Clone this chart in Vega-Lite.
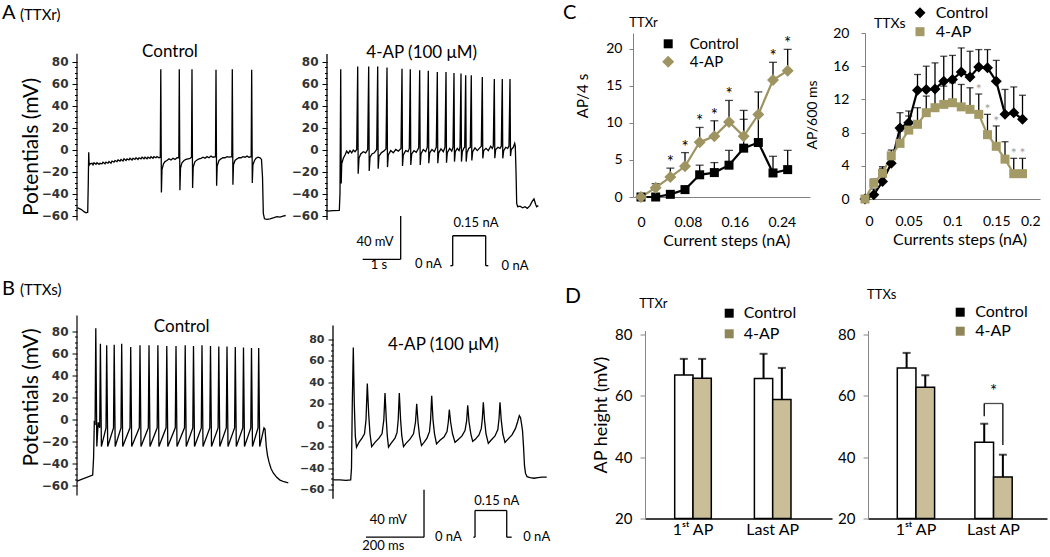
{
"$schema":"https://vega.github.io/schema/vega-lite/v6.json",
"autosize":{"type":"none"},
"padding":{"left":77,"top":33,"right":973,"bottom":524},
"background":"white",
"config":{"view":{"stroke":null},"font":"Lato","axis":{"grid":false,"labelFont":"Lato","titleFont":"Lato"},"text":{"font":"Lato","color":"black"},"legend":{"labelFont":"Lato","labelColor":"black"}},
"spacing":5.5,
"resolve":{"scale":{"x":"independent","y":"independent","color":"independent","shape":"independent","size":"independent","fill":"independent","xOffset":"independent"},"axis":{"x":"independent","y":"independent"},"legend":{"color":"independent","shape":"independent","fill":"independent"}},
"datasets":{
"aCtrl":[{"t":0.008,"v":-53},{"t":0.053,"v":-53.5},{"t":0.124,"v":-54.8},{"t":0.184,"v":-56.5},{"t":0.237,"v":-57.5},{"t":0.282,"v":-57},{"t":0.297,"v":-30},{"t":0.308,"v":-2.5},{"t":0.321,"v":-14.5},{"t":0.342,"v":-13},{"t":0.395,"v":-12.5},{"t":0.421,"v":-14},{"t":0.447,"v":-12},{"t":0.5,"v":-13.5},{"t":0.526,"v":-12},{"t":0.579,"v":-13.5},{"t":0.605,"v":-12.5},{"t":0.658,"v":-13},{"t":0.684,"v":-11.5},{"t":0.737,"v":-13},{"t":0.763,"v":-11.5},{"t":0.816,"v":-12.5},{"t":0.842,"v":-11},{"t":0.895,"v":-12.5},{"t":0.921,"v":-10.5},{"t":0.974,"v":-11.5},{"t":1.0,"v":-10},{"t":1.053,"v":-11},{"t":1.079,"v":-9.5},{"t":1.132,"v":-10.5},{"t":1.158,"v":-9},{"t":1.211,"v":-10.5},{"t":1.237,"v":-8.5},{"t":1.289,"v":-10},{"t":1.316,"v":-8.5},{"t":1.368,"v":-9.5},{"t":1.395,"v":-8},{"t":1.447,"v":-9.5},{"t":1.474,"v":-8},{"t":1.526,"v":-9},{"t":1.553,"v":-7.5},{"t":1.605,"v":-9},{"t":1.632,"v":-7.5},{"t":1.684,"v":-8.5},{"t":1.711,"v":-7},{"t":1.763,"v":-8.5},{"t":1.789,"v":-7},{"t":1.842,"v":-8.5},{"t":1.868,"v":-7},{"t":1.921,"v":-8},{"t":1.947,"v":-6.5},{"t":2.0,"v":-8},{"t":2.026,"v":-6.5},{"t":2.079,"v":-7.5},{"t":2.105,"v":-6.5},{"t":2.158,"v":-7.5},{"t":2.192,"v":-7},{"t":2.205,"v":73},{"t":2.221,"v":-39},{"t":2.237,"v":-18},{"t":2.276,"v":-13},{"t":2.316,"v":-11},{"t":2.368,"v":-10},{"t":2.421,"v":-8.5},{"t":2.474,"v":-9.5},{"t":2.526,"v":-8},{"t":2.579,"v":-9},{"t":2.632,"v":-7.5},{"t":2.679,"v":-7.5},{"t":2.692,"v":73},{"t":2.708,"v":-37},{"t":2.724,"v":-17},{"t":2.763,"v":-12},{"t":2.816,"v":-10},{"t":2.868,"v":-9},{"t":2.921,"v":-8.5},{"t":2.974,"v":-8},{"t":3.013,"v":-7},{"t":3.026,"v":73},{"t":3.042,"v":-35},{"t":3.058,"v":-16},{"t":3.105,"v":-11},{"t":3.158,"v":-9.5},{"t":3.211,"v":-8.5},{"t":3.263,"v":-8},{"t":3.316,"v":-7},{"t":3.368,"v":-8},{"t":3.421,"v":-6.5},{"t":3.474,"v":-7.5},{"t":3.526,"v":-6},{"t":3.579,"v":-7},{"t":3.645,"v":-6.5},{"t":3.658,"v":72.5},{"t":3.674,"v":-33},{"t":3.689,"v":-15},{"t":3.737,"v":-10},{"t":3.789,"v":-8.5},{"t":3.842,"v":-7.5},{"t":3.895,"v":-7.5},{"t":3.947,"v":-6.5},{"t":4.0,"v":-7},{"t":4.074,"v":-6.5},{"t":4.087,"v":73},{"t":4.103,"v":-32},{"t":4.118,"v":-14},{"t":4.158,"v":-10},{"t":4.211,"v":-8.5},{"t":4.263,"v":-7.5},{"t":4.316,"v":-7.5},{"t":4.368,"v":-6.5},{"t":4.421,"v":-7},{"t":4.474,"v":-6},{"t":4.526,"v":-7},{"t":4.584,"v":-6.5},{"t":4.597,"v":72.5},{"t":4.613,"v":-30.5},{"t":4.629,"v":-14},{"t":4.671,"v":-10},{"t":4.711,"v":-8},{"t":4.763,"v":-7},{"t":4.816,"v":-7.5},{"t":4.855,"v":-9},{"t":4.882,"v":-25},{"t":4.903,"v":-58},{"t":4.934,"v":-63},{"t":5.0,"v":-63.5},{"t":5.079,"v":-63},{"t":5.184,"v":-62},{"t":5.263,"v":-61},{"t":5.342,"v":-61.5},{"t":5.421,"v":-60.5},{"t":5.492,"v":-60}],
"aAP":[{"t":0,"v":-56},{"t":0.166,"v":-55.5},{"t":0.324,"v":-55.4},{"t":0.342,"v":-40},{"t":0.361,"v":73},{"t":0.374,"v":-31},{"t":0.387,"v":-13},{"t":0.429,"v":-8},{"t":0.474,"v":-5},{"t":0.518,"v":-1.5},{"t":0.561,"v":-3.5},{"t":0.605,"v":-1},{"t":0.65,"v":-3},{"t":0.692,"v":-0.5},{"t":0.737,"v":-2},{"t":0.782,"v":0},{"t":0.808,"v":75.5},{"t":0.821,"v":-22},{"t":0.842,"v":-8},{"t":0.887,"v":-4},{"t":0.955,"v":-2},{"t":1.018,"v":-3},{"t":1.071,"v":0},{"t":1.097,"v":75.5},{"t":1.111,"v":-19.5},{"t":1.132,"v":-7},{"t":1.184,"v":-4},{"t":1.245,"v":-3},{"t":1.308,"v":0},{"t":1.334,"v":75.5},{"t":1.347,"v":-17.5},{"t":1.368,"v":-6},{"t":1.429,"v":-3},{"t":1.492,"v":-1.5},{"t":1.553,"v":0.5},{"t":1.579,"v":74.5},{"t":1.592,"v":-16},{"t":1.613,"v":-5},{"t":1.676,"v":-1},{"t":1.745,"v":-3},{"t":1.808,"v":0},{"t":1.876,"v":-1.5},{"t":1.947,"v":1},{"t":1.974,"v":73.3},{"t":1.987,"v":-15},{"t":2.008,"v":-5},{"t":2.071,"v":-1},{"t":2.132,"v":-2},{"t":2.166,"v":1},{"t":2.192,"v":73},{"t":2.205,"v":-14},{"t":2.229,"v":-4},{"t":2.289,"v":-1},{"t":2.35,"v":-2.5},{"t":2.413,"v":1.5},{"t":2.439,"v":72},{"t":2.453,"v":-14},{"t":2.474,"v":-4},{"t":2.534,"v":0},{"t":2.597,"v":-2},{"t":2.639,"v":2},{"t":2.666,"v":71.5},{"t":2.679,"v":-12.5},{"t":2.703,"v":-3},{"t":2.763,"v":0},{"t":2.824,"v":-2},{"t":2.876,"v":2},{"t":2.903,"v":70.5},{"t":2.916,"v":-12.5},{"t":2.939,"v":-3},{"t":3.0,"v":0.5},{"t":3.061,"v":-2},{"t":3.105,"v":2},{"t":3.132,"v":70.5},{"t":3.145,"v":-12},{"t":3.166,"v":-3},{"t":3.229,"v":1},{"t":3.282,"v":-1.5},{"t":3.316,"v":2},{"t":3.342,"v":69.5},{"t":3.355,"v":-11},{"t":3.376,"v":-2},{"t":3.429,"v":1},{"t":3.474,"v":-1},{"t":3.5,"v":2},{"t":3.526,"v":69},{"t":3.539,"v":-11},{"t":3.561,"v":-2},{"t":3.597,"v":1},{"t":3.624,"v":2},{"t":3.65,"v":67.5},{"t":3.663,"v":-11},{"t":3.684,"v":-3},{"t":3.729,"v":1},{"t":3.771,"v":2},{"t":3.797,"v":67.5},{"t":3.811,"v":-10},{"t":3.834,"v":-2},{"t":3.895,"v":1.5},{"t":3.955,"v":-1},{"t":4.008,"v":1},{"t":4.061,"v":3},{"t":4.087,"v":66},{"t":4.1,"v":-8},{"t":4.124,"v":-1},{"t":4.184,"v":1},{"t":4.245,"v":-1},{"t":4.308,"v":3},{"t":4.35,"v":1},{"t":4.376,"v":3},{"t":4.403,"v":64},{"t":4.416,"v":-8},{"t":4.439,"v":0},{"t":4.5,"v":2},{"t":4.553,"v":1},{"t":4.587,"v":3},{"t":4.613,"v":64},{"t":4.626,"v":-8},{"t":4.65,"v":-1},{"t":4.703,"v":2},{"t":4.755,"v":1},{"t":4.789,"v":3},{"t":4.816,"v":64},{"t":4.829,"v":-6},{"t":4.85,"v":0},{"t":4.903,"v":2},{"t":4.939,"v":5.5},{"t":4.955,"v":3},{"t":4.974,"v":-20},{"t":4.992,"v":-49},{"t":5.018,"v":-52},{"t":5.079,"v":-51.5},{"t":5.15,"v":-53},{"t":5.211,"v":-52},{"t":5.271,"v":-53.5},{"t":5.342,"v":-51},{"t":5.403,"v":-47},{"t":5.447,"v":-45},{"t":5.492,"v":-50},{"t":5.518,"v":-52},{"t":5.561,"v":-51}],
"bCtrl":[{"t":0,"v":-56.4},{"t":54.1,"v":-50.9},{"t":57.2,"v":-35},{"t":59.7,"v":-3},{"t":62.4,"v":-4},{"t":64.8,"v":82.5},{"t":68.3,"v":-25},{"t":73.1,"v":-3},{"t":78.3,"v":-8},{"t":80.7,"v":68.5},{"t":84.1,"v":-25},{"t":100.0,"v":-8},{"t":102.4,"v":67},{"t":105.9,"v":-25},{"t":125.9,"v":-8},{"t":128.3,"v":67.5},{"t":131.7,"v":-25},{"t":151.7,"v":-8},{"t":154.1,"v":68.5},{"t":157.6,"v":-25},{"t":182.7,"v":-8},{"t":185.2,"v":65.5},{"t":188.6,"v":-25},{"t":214.8,"v":-8},{"t":217.2,"v":67},{"t":220.7,"v":-25},{"t":245.9,"v":-8},{"t":248.3,"v":67},{"t":251.7,"v":-25},{"t":276.5,"v":-8},{"t":278.9,"v":67},{"t":282.4,"v":-25},{"t":307.2,"v":-8},{"t":309.6,"v":66.5},{"t":313.1,"v":-25},{"t":338.9,"v":-8},{"t":341.4,"v":66.5},{"t":344.8,"v":-25},{"t":370.7,"v":-8},{"t":373.1,"v":67},{"t":376.6,"v":-25},{"t":399.3,"v":-8},{"t":401.7,"v":66.5},{"t":405.2,"v":-25},{"t":428.6,"v":-8},{"t":431.0,"v":67},{"t":434.5,"v":-25},{"t":457.9,"v":-8},{"t":460.3,"v":66.5},{"t":463.8,"v":-25},{"t":486.5,"v":-8},{"t":488.9,"v":66},{"t":492.4,"v":-25},{"t":514.8,"v":-8},{"t":517.2,"v":66},{"t":520.7,"v":-25},{"t":543.4,"v":-8},{"t":545.8,"v":65.5},{"t":549.3,"v":-25},{"t":571.7,"v":-8},{"t":574.1,"v":65},{"t":577.5,"v":-25},{"t":599.3,"v":-8},{"t":601.7,"v":64.5},{"t":605.1,"v":-25},{"t":624.1,"v":-8},{"t":626.5,"v":64.5},{"t":630.0,"v":-25},{"t":644.8,"v":-8},{"t":648.2,"v":-9},{"t":652.7,"v":-25},{"t":656.8,"v":-33},{"t":662.0,"v":-39},{"t":668.9,"v":-45},{"t":676.8,"v":-49},{"t":688.6,"v":-53},{"t":700.0,"v":-55.5},{"t":713.7,"v":-57},{"t":728.6,"v":-58}],
"bAP":[{"t":1.7,"v":-51},{"t":24.1,"v":-51},{"t":44.8,"v":-51.5},{"t":61.0,"v":-51},{"t":63.8,"v":-40},{"t":66.5,"v":20},{"t":70.0,"v":72.5},{"t":73.4,"v":20},{"t":76.9,"v":-10},{"t":81.0,"v":-20.5},{"t":89.6,"v":-16},{"t":100.0,"v":-12},{"t":108.6,"v":-8},{"t":113.8,"v":5},{"t":118.3,"v":39},{"t":123.1,"v":10},{"t":127.6,"v":-8},{"t":133.4,"v":-20},{"t":144.8,"v":-16},{"t":158.6,"v":-12},{"t":169.0,"v":-8},{"t":175.2,"v":5},{"t":179.3,"v":30},{"t":183.8,"v":5},{"t":187.2,"v":-10},{"t":191.4,"v":-20.5},{"t":200.0,"v":-17},{"t":213.8,"v":-12},{"t":220.7,"v":-7},{"t":224.8,"v":5},{"t":228.6,"v":30},{"t":233.1,"v":5},{"t":237.2,"v":-10},{"t":243.1,"v":-20},{"t":251.7,"v":-17},{"t":265.5,"v":-13},{"t":277.6,"v":-8},{"t":284.5,"v":3},{"t":288.6,"v":20},{"t":293.1,"v":3},{"t":298.3,"v":-10},{"t":305.1,"v":-19},{"t":313.8,"v":-16},{"t":324.1,"v":-12},{"t":332.7,"v":-6},{"t":336.5,"v":5},{"t":340.3,"v":27.5},{"t":344.8,"v":5},{"t":350.0,"v":-8},{"t":356.9,"v":-17.5},{"t":368.9,"v":-14},{"t":382.7,"v":-11},{"t":393.1,"v":-6},{"t":397.6,"v":3},{"t":401.0,"v":14.5},{"t":405.5,"v":3},{"t":412.1,"v":-8},{"t":420.7,"v":-16},{"t":431.0,"v":-13.5},{"t":444.8,"v":-10},{"t":455.1,"v":-5},{"t":460.7,"v":4},{"t":464.5,"v":18.5},{"t":469.0,"v":3},{"t":475.2,"v":-8},{"t":481.7,"v":-15},{"t":491.4,"v":-13},{"t":503.4,"v":-9},{"t":511.4,"v":-3},{"t":514.8,"v":6},{"t":518.3,"v":21.5},{"t":522.4,"v":5},{"t":527.6,"v":-8},{"t":535.5,"v":-17},{"t":544.8,"v":-14},{"t":558.6,"v":-10},{"t":568.3,"v":-4},{"t":572.4,"v":6},{"t":575.8,"v":21.5},{"t":580.0,"v":5},{"t":585.5,"v":-8},{"t":593.1,"v":-16},{"t":603.4,"v":-13},{"t":617.2,"v":-9},{"t":629.3,"v":-3},{"t":636.2,"v":3},{"t":642.4,"v":9},{"t":646.6,"v":7},{"t":650.7,"v":0},{"t":653.4,"v":-5},{"t":656.9,"v":-20},{"t":660.3,"v":-38},{"t":663.8,"v":-45},{"t":669.0,"v":-48},{"t":679.3,"v":-49},{"t":693.1,"v":-49.5},{"t":706.9,"v":-49},{"t":720.7,"v":-48.5},{"t":736.9,"v":-48.5}],
"cR":[{"cur":0,"series":"Control","val":0},{"cur":0.025,"series":"Control","val":0},{"cur":0.05,"series":"Control","val":0.36},{"cur":0.075,"series":"Control","val":1.0},{"cur":0.1,"series":"Control","val":3.0,"up":4.3},{"cur":0.125,"series":"Control","val":3.3,"up":4.65},{"cur":0.15,"series":"Control","val":4.3,"up":6.3},{"cur":0.175,"series":"Control","val":6.6,"up":10.5},{"cur":0.2,"series":"Control","val":7.36,"up":11.0},{"cur":0.225,"series":"Control","val":3.25,"up":5.5},{"cur":0.25,"series":"Control","val":3.7,"up":6.3},
{"cur":0,"series":"4-AP","val":0},{"cur":0.025,"series":"4-AP","val":1.26,"up":1.8},{"cur":0.05,"series":"4-AP","val":2.7,"up":3.9,"sig":true},{"cur":0.075,"series":"4-AP","val":4.15,"up":6.0,"sig":true},{"cur":0.1,"series":"4-AP","val":7.4,"up":9.4,"sig":true},{"cur":0.125,"series":"4-AP","val":8.2,"up":10.3,"sig":true},{"cur":0.15,"series":"4-AP","val":10.15,"up":13.05,"sig":true},{"cur":0.175,"series":"4-AP","val":8.2,"up":11.7},{"cur":0.2,"series":"4-AP","val":11.15,"up":14.2},{"cur":0.225,"series":"4-AP","val":15.8,"up":18.2,"sig":true},{"cur":0.25,"series":"4-AP","val":17.07,"up":19.95,"sig":true}],
"cS":[{"cur":0,"series":"Control","val":0},{"cur":0.01,"series":"Control","val":0.5,"up":1.2},{"cur":0.02,"series":"Control","val":2.1,"up":3.7},{"cur":0.03,"series":"Control","val":4.3,"up":5.9},{"cur":0.04,"series":"Control","val":8.55,"up":10.4},{"cur":0.05,"series":"Control","val":9.2,"up":10.6},{"cur":0.06,"series":"Control","val":13.1,"up":15.0},{"cur":0.07,"series":"Control","val":13.2,"up":16.0},{"cur":0.08,"series":"Control","val":13.25,"up":16.4},{"cur":0.09,"series":"Control","val":14.2,"up":17.2},{"cur":0.1,"series":"Control","val":14.4,"up":17.3},{"cur":0.11,"series":"Control","val":15.3,"up":18.2},{"cur":0.12,"series":"Control","val":14.7,"up":17.8},{"cur":0.13,"series":"Control","val":15.9,"up":18.0},{"cur":0.14,"series":"Control","val":15.8,"up":18.0},{"cur":0.15,"series":"Control","val":14.2,"up":16.7},{"cur":0.16,"series":"Control","val":10.2,"up":13.2},{"cur":0.17,"series":"Control","val":10.4,"up":13.5},{"cur":0.18,"series":"Control","val":9.6,"up":12.5},
{"cur":0,"series":"4-AP","val":0},{"cur":0.01,"series":"4-AP","val":1.9,"up":2.4},{"cur":0.02,"series":"4-AP","val":3.1,"up":3.9},{"cur":0.03,"series":"4-AP","val":5.2,"up":5.3},{"cur":0.04,"series":"4-AP","val":6.7,"up":8.2},{"cur":0.05,"series":"4-AP","val":8.3,"up":10.0},{"cur":0.06,"series":"4-AP","val":9.0,"up":11.0},{"cur":0.07,"series":"4-AP","val":10.4,"up":12.4},{"cur":0.08,"series":"4-AP","val":11.0,"up":13.2},{"cur":0.09,"series":"4-AP","val":11.4,"up":13.6},{"cur":0.1,"series":"4-AP","val":11.6,"up":14.0},{"cur":0.11,"series":"4-AP","val":11.1,"up":13.8},{"cur":0.12,"series":"4-AP","val":10.8,"up":13.4},{"cur":0.13,"series":"4-AP","val":10.2,"up":12.65,"sig":true},{"cur":0.14,"series":"4-AP","val":7.75,"up":10.2,"sig":true},{"cur":0.15,"series":"4-AP","val":6.35,"up":8.8,"sig":true},{"cur":0.16,"series":"4-AP","val":4.8,"up":6.9},{"cur":0.17,"series":"4-AP","val":3.05,"up":4.9,"sig":true},{"cur":0.18,"series":"4-AP","val":3.05,"up":4.9,"sig":true}],
"dR":[{"ap":"1st AP","grp":"Control","h":66.8,"up":72.05},{"ap":"1st AP","grp":"4-AP","h":65.75,"up":72.05},{"ap":"Last AP","grp":"Control","h":65.65,"up":73.7},{"ap":"Last AP","grp":"4-AP","h":58.8,"up":69.1}],
"dS":[{"ap":"1st AP","grp":"Control","h":69.1,"up":74.0},{"ap":"1st AP","grp":"4-AP","h":62.8,"up":66.7},{"ap":"Last AP","grp":"Control","h":44.9,"up":50.9},{"ap":"Last AP","grp":"4-AP","h":33.5,"up":40.8}]
},
"vconcat":[
{"hconcat":[
{"width":195,"height":240,
 "encoding":{"x":{"field":"t","type":"quantitative","scale":{"domain":[0,5.1316],"nice":false,"zero":false},"axis":null},
  "y":{"field":"v","type":"quantitative","scale":{"domain":[-112.27,105.91],"nice":false,"zero":false},
   "axis":{"values":[-60,-55,-50,-45,-40,-35,-30,-25,-20,-15,-10,-5,0,5,10,15,20,25,30,35,40,45,50,55,60,65,70,75,80],"labelExpr":"datum.value % 20 === 0 ? datum.label : ''","labelOverlap":false,"domain":false,"tickSize":{"condition":{"test":"datum.value % 20 === 0","value":5},"value":2.5},"tickColor":"#000","labelFont":"DejaVu Sans","labelFontSize":12,"labelFontWeight":"bold","labelColor":"#333","labelPadding":4,"title":null}}},
 "layer":[
  {"data":{"name":"aCtrl"},"mark":{"type":"line","color":"black","strokeWidth":1.3}},
  {"data":{"values":[{"t":0,"v":87,"t2":0,"v2":-64.5}]},"mark":{"type":"rule","color":"black","strokeWidth":1.2},"encoding":{"x2":{"field":"t2"},"y2":{"field":"v2"}}},
  {"data":{"values":[{"t":-1.974,"v":124.5,"label":"A"}]},"mark":{"type":"text","align":"left","baseline":"middle","fontSize":20,"color":"black"},"encoding":{"text":{"field":"label"}}},
  {"data":{"values":[{"t":-1.5,"v":122.3,"label":"(TTXr)"}]},"mark":{"type":"text","align":"left","baseline":"middle","fontSize":15,"color":"black"},"encoding":{"text":{"field":"label"}}},
  {"data":{"values":[{"t":-1.184,"v":2.3,"label":"Potentials (mV)"}]},"mark":{"type":"text","align":"center","baseline":"middle","fontSize":21,"angle":270,"color":"black"},"encoding":{"text":{"field":"label"}}},
  {"data":{"values":[{"t":2.447,"v":88.9,"label":"Control"}]},"mark":{"type":"text","align":"center","baseline":"middle","fontSize":17,"color":"black"},"encoding":{"text":{"field":"label"}}}
 ]},
{"width":251,"height":240,
 "encoding":{"x":{"field":"t","type":"quantitative","scale":{"domain":[0,6.6053],"nice":false,"zero":false},"axis":null},
  "y":{"field":"v","type":"quantitative","scale":{"domain":[-112.27,105.91],"nice":false,"zero":false},
   "axis":{"values":[-60,-55,-50,-45,-40,-35,-30,-25,-20,-15,-10,-5,0,5,10,15,20,25,30,35,40,45,50,55,60,65,70,75,80],"labelExpr":"datum.value % 20 === 0 ? datum.label : ''","labelOverlap":false,"domain":false,"tickSize":{"condition":{"test":"datum.value % 20 === 0","value":5},"value":2.5},"tickColor":"#000","labelFont":"DejaVu Sans","labelFontSize":12,"labelFontWeight":"bold","labelColor":"#333","labelPadding":4,"title":null}}},
 "layer":[
  {"data":{"name":"aAP"},"mark":{"type":"line","color":"black","strokeWidth":1.3}},
  {"data":{"values":[{"t":0,"v":86.8,"t2":0,"v2":-64.1},{"t":1.939,"v":-60.5,"t2":1.939,"v2":-99.8},{"t":0.939,"v":-99.8,"t2":1.939,"v2":-99.8},{"t":3.245,"v":-105.6,"t2":3.308,"v2":-105.6},{"t":3.308,"v":-105.6,"t2":3.308,"v2":-78.4},{"t":3.308,"v":-78.4,"t2":4.176,"v2":-78.4},{"t":4.176,"v":-78.4,"t2":4.176,"v2":-105.6},{"t":4.176,"v":-105.6,"t2":4.245,"v2":-105.6}]},"mark":{"type":"rule","color":"black","strokeWidth":1.3},"encoding":{"x2":{"field":"t2"},"y2":{"field":"v2"}}},
  {"data":{"values":[{"t":2.492,"v":87.5,"label":"4-AP (100 μM)"}]},"mark":{"type":"text","align":"center","baseline":"middle","fontSize":17,"color":"black"},"encoding":{"text":{"field":"label"}}},
  {"data":{"values":[{"t":1.263,"v":-83.8,"label":"40 mV"},{"t":1.368,"v":-105,"label":"1 s"},{"t":2.667,"v":-104.4,"label":"0 nA"},{"t":3.921,"v":-66.5,"label":"0.15 nA"},{"t":4.947,"v":-105.6,"label":"0 nA"}]},"mark":{"type":"text","align":"center","baseline":"middle","fontSize":13,"color":"black"},"encoding":{"text":{"field":"label"}}}
 ]},
{"width":177,"height":164,
 "encoding":{"x":{"field":"cur","type":"quantitative","scale":{"domain":[-0.01364,0.28805],"nice":false,"zero":false},"axis":{"values":[0,0.08,0.16,0.24],"format":".2~f","ticks":false,"domainColor":"#808080","labelFontSize":14,"labelColor":"black","labelPadding":18,"title":null}},
  "y":{"field":"val","type":"quantitative","scale":{"domain":[0,22.162],"nice":false,"zero":false},"axis":{"values":[0,5,10,15,20],"domainColor":"#808080","tickColor":"#808080","tickSize":4,"labelFontSize":14,"labelColor":"black","labelPadding":7,"title":null}}},
 "layer":[
  {"data":{"name":"cR"},"transform":[{"filter":"isValid(datum.up)"}],"mark":{"type":"rule","color":"black","strokeWidth":1.3},"encoding":{"y2":{"field":"up"}}},
  {"data":{"name":"cR"},"transform":[{"filter":"isValid(datum.up)"}],"mark":{"type":"tick","orient":"horizontal","size":8,"thickness":1.3,"color":"black"},"encoding":{"y":{"field":"up","type":"quantitative","scale":{"domain":[0,22.162],"nice":false,"zero":false},"axis":{"values":[0,5,10,15,20],"domainColor":"#808080","tickColor":"#808080","tickSize":4,"labelFontSize":14,"labelColor":"black","labelPadding":7,"title":null}}}},
  {"data":{"name":"cR"},"transform":[{"filter":"datum.series === 'Control'"}],"mark":{"type":"line","strokeWidth":2.2,"color":"#000000"}},
  {"data":{"name":"cR"},"transform":[{"filter":"datum.series === '4-AP'"}],"mark":{"type":"line","strokeWidth":2.2,"color":"#9e9462"}},
  {"data":{"name":"cR"},"mark":{"type":"point","filled":true,"opacity":1},"encoding":{
    "color":{"field":"series","type":"nominal","scale":{"domain":["Control","4-AP"],"range":["#000000","#9e9462"]},"legend":{"title":null,"orient":"none","legendX":27.7,"legendY":3.3,"symbolSize":100,"labelFontSize":15,"labelOffset":14,"rowPadding":2,"padding":0,"symbolStrokeWidth":0}},
    "shape":{"field":"series","type":"nominal","scale":{"domain":["Control","4-AP"],"range":["square","diamond"]},"legend":{"title":null,"orient":"none","legendX":27.7,"legendY":3.3,"symbolSize":100,"labelFontSize":15,"labelOffset":14,"rowPadding":2,"padding":0,"symbolStrokeWidth":0}},
    "size":{"field":"series","type":"nominal","scale":{"domain":["Control","4-AP"],"range":[81,144]},"legend":null}}},
  {"data":{"name":"cR"},"transform":[{"filter":"datum.sig === true"}],"mark":{"type":"text","text":"*","fontSize":17,"baseline":"alphabetic","align":"center","dy":0,"color":"black"},"encoding":{"y":{"field":"up","type":"quantitative","scale":{"domain":[0,22.162],"nice":false,"zero":false},"axis":{"values":[0,5,10,15,20],"domainColor":"#808080","tickColor":"#808080","tickSize":4,"labelFontSize":14,"labelColor":"black","labelPadding":7,"title":null}}}},
  {"data":{"values":[{"cur":-0.1329,"val":24.8,"label":"C"}]},"mark":{"type":"text","align":"left","baseline":"middle","fontSize":20,"color":"black"},"encoding":{"text":{"field":"label"}}},
  {"data":{"values":[{"cur":0.0043,"val":23.51,"label":"TTXr"}]},"mark":{"type":"text","align":"center","baseline":"middle","fontSize":13,"color":"black"},"encoding":{"text":{"field":"label"}}},
  {"data":{"values":[{"cur":-0.0989,"val":13.65,"label":"AP/4 s"}]},"mark":{"type":"text","align":"center","baseline":"middle","fontSize":15,"angle":270,"color":"black"},"encoding":{"text":{"field":"label"}}},
  {"data":{"values":[{"cur":0.1461,"val":-5.9,"label":"Current steps (nA)"}]},"mark":{"type":"text","align":"center","baseline":"middle","fontSize":16,"color":"black"},"encoding":{"text":{"field":"label"}}}
 ]},
{"width":175,"height":166,
 "encoding":{"x":{"field":"cur","type":"quantitative","scale":{"domain":[0,0.2],"nice":false,"zero":false},"axis":{"values":[0,0.05,0.1,0.15,0.2],"format":".2~f","ticks":false,"domainColor":"#808080","labelFontSize":14,"labelColor":"black","labelPadding":15,"title":null}},
  "y":{"field":"val","type":"quantitative","scale":{"domain":[0,20],"nice":false,"zero":false},"axis":{"values":[0,4,8,12,16,20],"domainColor":"#808080","tickColor":"#808080","tickSize":4,"labelFontSize":14,"labelColor":"black","labelPadding":12,"title":null}}},
 "layer":[
  {"data":{"name":"cS"},"transform":[{"filter":"isValid(datum.up)"}],"mark":{"type":"rule","color":"black","strokeWidth":1.3},"encoding":{"y2":{"field":"up"}}},
  {"data":{"name":"cS"},"transform":[{"filter":"isValid(datum.up)"}],"mark":{"type":"tick","orient":"horizontal","size":7,"thickness":1.3,"color":"black"},"encoding":{"y":{"field":"up","type":"quantitative","scale":{"domain":[0,20],"nice":false,"zero":false},"axis":{"values":[0,4,8,12,16,20],"domainColor":"#808080","tickColor":"#808080","tickSize":4,"labelFontSize":14,"labelColor":"black","labelPadding":12,"title":null}}}},
  {"data":{"name":"cS"},"transform":[{"filter":"datum.series === 'Control'"}],"mark":{"type":"line","strokeWidth":2.2,"color":"#000000"}},
  {"data":{"name":"cS"},"transform":[{"filter":"datum.series === '4-AP'"}],"mark":{"type":"line","strokeWidth":2.2,"color":"#a39a66"}},
  {"data":{"name":"cS"},"mark":{"type":"point","filled":true,"opacity":1},"encoding":{
    "color":{"field":"series","type":"nominal","scale":{"domain":["Control","4-AP"],"range":["#000000","#a39a66"]},"legend":{"title":null,"orient":"none","legendX":47,"legendY":-28.3,"symbolSize":100,"labelFontSize":16,"labelOffset":7.7,"rowPadding":3,"padding":0,"symbolStrokeWidth":0}},
    "shape":{"field":"series","type":"nominal","scale":{"domain":["Control","4-AP"],"range":["diamond","square"]},"legend":{"title":null,"orient":"none","legendX":47,"legendY":-28.3,"symbolSize":100,"labelFontSize":16,"labelOffset":7.7,"rowPadding":3,"padding":0,"symbolStrokeWidth":0}},
    "size":{"field":"series","type":"nominal","scale":{"domain":["Control","4-AP"],"range":[121,81]},"legend":null}}},
  {"data":{"name":"cS"},"transform":[{"filter":"datum.sig === true"}],"mark":{"type":"text","text":"*","fontSize":14,"baseline":"alphabetic","align":"center","color":"#a0a0a0","dy":0},"encoding":{"y":{"field":"up","type":"quantitative","scale":{"domain":[0,20],"nice":false,"zero":false},"axis":{"values":[0,4,8,12,16,20],"domainColor":"#808080","tickColor":"#808080","tickSize":4,"labelFontSize":14,"labelColor":"black","labelPadding":12,"title":null}}}},
  {"data":{"values":[{"cur":0.0283,"val":21.08,"label":"TTXs"}]},"mark":{"type":"text","align":"center","baseline":"middle","fontSize":14,"color":"black"},"encoding":{"text":{"field":"label"}}},
  {"data":{"values":[{"cur":-0.0595,"val":10.12,"label":"AP/600 ms"}]},"mark":{"type":"text","align":"center","baseline":"middle","fontSize":14,"angle":270,"color":"black"},"encoding":{"text":{"field":"label"}}},
  {"data":{"values":[{"cur":0.1087,"val":-4.94,"label":"Currents steps  (nA)"}]},"mark":{"type":"text","align":"center","baseline":"middle","fontSize":16,"color":"black"},"encoding":{"text":{"field":"label"}}}
 ]}
],
"spacing":55,"bounds":"flush",
"resolve":{"scale":{"x":"independent","y":"independent","color":"independent","shape":"independent","size":"independent"},"axis":{"x":"independent","y":"independent"},"legend":{"color":"independent","shape":"independent"}}},
{"hconcat":[
{"width":220,"height":170,
 "encoding":{"x":{"field":"t","type":"quantitative","scale":{"domain":[0,758.6],"nice":false,"zero":false},"axis":null},
  "y":{"field":"v","type":"quantitative","scale":{"domain":[-74.05,80.5],"nice":false,"zero":false},
   "axis":{"values":[-60,-55,-50,-45,-40,-35,-30,-25,-20,-15,-10,-5,0,5,10,15,20,25,30,35,40,45,50,55,60,65,70,75,80],"labelExpr":"datum.value % 20 === 0 ? datum.label : ''","labelOverlap":false,"domain":false,"tickSize":{"condition":{"test":"datum.value % 20 === 0","value":5},"value":2.5},"tickColor":"#000","labelFont":"DejaVu Sans","labelFontSize":12,"labelFontWeight":"bold","labelColor":"#333","labelPadding":4,"title":null}}},
 "layer":[
  {"data":{"name":"bCtrl"},"mark":{"type":"line","color":"black","strokeWidth":1.3}},
  {"data":{"values":[{"t":0,"v":94.1,"t2":0,"v2":-69.5}]},"mark":{"type":"rule","color":"black","strokeWidth":1.2},"encoding":{"x2":{"field":"t2"},"y2":{"field":"v2"}}},
  {"data":{"values":[{"t":-258.6,"v":118.2,"label":"B"}]},"mark":{"type":"text","align":"left","baseline":"middle","fontSize":20,"color":"black"},"encoding":{"text":{"field":"label"}}},
  {"data":{"values":[{"t":-196.5,"v":116.9,"label":"(TTXs)"}]},"mark":{"type":"text","align":"left","baseline":"middle","fontSize":15,"color":"black"},"encoding":{"text":{"field":"label"}}},
  {"data":{"values":[{"t":-155.2,"v":19.6,"label":"Potentials (mV)"}]},"mark":{"type":"text","align":"center","baseline":"middle","fontSize":21,"angle":270,"color":"black"},"encoding":{"text":{"field":"label"}}},
  {"data":{"values":[{"t":361,"v":83.5,"label":"Control"}]},"mark":{"type":"text","align":"center","baseline":"middle","fontSize":17,"color":"black"},"encoding":{"text":{"field":"label"}}}
 ]},
{"width":276,"height":200,
 "encoding":{"x":{"field":"t","type":"quantitative","scale":{"domain":[0,951.6],"nice":false,"zero":false},"axis":null},
  "y":{"field":"v","type":"quantitative","scale":{"domain":[-98.27,88.4],"nice":false,"zero":false},
   "axis":{"values":[-60,-55,-50,-45,-40,-35,-30,-25,-20,-15,-10,-5,0,5,10,15,20,25,30,35,40,45,50,55,60,65,70,75,80],"labelExpr":"datum.value % 20 === 0 ? datum.label : ''","labelOverlap":false,"domain":false,"tickSize":{"condition":{"test":"datum.value % 20 === 0","value":5},"value":2.5},"tickColor":"#000","labelFont":"DejaVu Sans","labelFontSize":11,"labelFontWeight":"bold","labelColor":"#333","labelPadding":4,"title":null}}},
 "layer":[
  {"data":{"name":"bAP"},"mark":{"type":"line","color":"black","strokeWidth":1.3}},
  {"data":{"values":[{"t":0,"v":93.1,"t2":0,"v2":-68.7},{"t":313.8,"v":-60.3,"t2":313.8,"v2":-104.5},{"t":113.8,"v":-104.5,"t2":313.8,"v2":-104.5},{"t":484,"v":-104.5,"t2":489.7,"v2":-104.5},{"t":489.7,"v":-104.5,"t2":489.7,"v2":-79.6},{"t":489.7,"v":-79.6,"t2":599,"v2":-79.6},{"t":599,"v":-79.6,"t2":599,"v2":-104.5},{"t":599,"v":-104.5,"t2":616,"v2":-104.5}]},"mark":{"type":"rule","color":"black","strokeWidth":1.3},"encoding":{"x2":{"field":"t2"},"y2":{"field":"v2"}}},
  {"data":{"values":[{"t":380.3,"v":74.4,"label":"4-AP (100 μM)"}]},"mark":{"type":"text","align":"center","baseline":"middle","fontSize":17,"color":"black"},"encoding":{"text":{"field":"label"}}},
  {"data":{"values":[{"t":190.7,"v":-88.3,"label":"40 mV"},{"t":173.4,"v":-112.3,"label":"200 ms"},{"t":397.7,"v":-103.9,"label":"0 nA"},{"t":564.4,"v":-70.3,"label":"0.15 nA"},{"t":702.4,"v":-104.5,"label":"0 nA"}]},"mark":{"type":"text","align":"center","baseline":"middle","fontSize":13,"color":"black"},"encoding":{"text":{"field":"label"}}},
  {"data":{"values":[{"t":800,"v":119.5,"label":"D"}]},"mark":{"type":"text","align":"left","baseline":"middle","fontSize":21,"color":"black"},"encoding":{"text":{"field":"label"}}},
  {"data":{"values":[{"t":1104.4,"v":113.3,"label":"TTXr"},{"t":1891.9,"v":121.1,"label":"TTXs"}]},"mark":{"type":"text","align":"center","baseline":"middle","fontSize":13,"color":"black"},"encoding":{"text":{"field":"label"}}},
  {"data":{"values":[{"t":927.5,"v":9.5,"label":"AP height (mV)"}]},"mark":{"type":"text","align":"center","baseline":"middle","fontSize":18,"angle":270,"color":"black"},"encoding":{"text":{"field":"label"}}}
 ]},
{"width":187,"height":188,
 "encoding":{"x":{"field":"ap","type":"nominal","scale":{"domain":["1st AP","Last AP"],"paddingInner":0.5408,"paddingOuter":0.4436,"align":0.42},"axis":{"labelExpr":"datum.value === '1st AP' ? '1ˢᵗ AP' : datum.value","labelAngle":0,"ticks":false,"domainColor":"black","domainWidth":1.5,"labelFontSize":16,"labelColor":"black","labelPadding":3,"title":null}},
  "xOffset":{"field":"grp","type":"nominal","scale":{"domain":["Control","4-AP"]}},
  "y":{"field":"h","type":"quantitative","scale":{"domain":[20,81.3],"nice":false,"zero":false},"axis":{"values":[20,40,60,80],"domainColor":"#888","tickColor":"#888","tickSize":5,"labelFontSize":15,"labelColor":"black","labelPadding":8,"title":null}}},
 "layer":[
  {"data":{"name":"dR"},"mark":{"type":"rule","color":"black","strokeWidth":2},"encoding":{"y2":{"field":"up"}}},
  {"data":{"name":"dR"},"mark":{"type":"tick","orient":"horizontal","size":8,"thickness":2,"color":"black"},"encoding":{"y":{"field":"up","type":"quantitative","scale":{"domain":[20,81.3],"nice":false,"zero":false},"axis":{"values":[20,40,60,80],"domainColor":"#888","tickColor":"#888","tickSize":5,"labelFontSize":15,"labelColor":"black","labelPadding":8,"title":null}}}},
  {"data":{"name":"dR"},"transform":[{"filter":"datum.grp === 'Control'"}],"mark":{"type":"bar","stroke":"black","strokeWidth":1.5,"fill":"#ffffff"},"encoding":{"y2":{"datum":20}}},
  {"data":{"name":"dR"},"transform":[{"filter":"datum.grp === '4-AP'"}],"mark":{"type":"bar","stroke":"black","strokeWidth":1.5,"fill":"#c9be97"},"encoding":{"y2":{"datum":20}}},
  {"data":{"name":"dR"},"mark":{"type":"point","shape":"square","filled":true,"opacity":0},"encoding":{"color":{"field":"grp","type":"nominal","scale":{"domain":["Control","4-AP"],"range":["#000000","#8e8658"]},"legend":{"title":null,"orient":"none","legendX":76.2,"legendY":-25.3,"symbolType":"square","symbolSize":81,"symbolOpacity":1,"symbolStrokeWidth":0,"labelFontSize":16,"labelOffset":6.5,"rowPadding":4.6,"padding":0}}}}
 ]},
{"width":179,"height":188,
 "encoding":{"x":{"field":"ap","type":"nominal","scale":{"domain":["1st AP","Last AP"],"paddingInner":0.5193,"paddingOuter":0.413,"align":0.457},"axis":{"labelExpr":"datum.value === '1st AP' ? '1ˢᵗ AP' : datum.value","labelAngle":0,"ticks":false,"domainColor":"black","domainWidth":1.5,"labelFontSize":16,"labelColor":"black","labelPadding":3,"title":null}},
  "xOffset":{"field":"grp","type":"nominal","scale":{"domain":["Control","4-AP"]}},
  "y":{"field":"h","type":"quantitative","scale":{"domain":[20,81.3],"nice":false,"zero":false},"axis":{"values":[20,40,60,80],"domainColor":"#888","tickColor":"#888","tickSize":5,"labelFontSize":15,"labelColor":"black","labelPadding":8,"title":null}}},
 "layer":[
  {"data":{"name":"dS"},"mark":{"type":"rule","color":"black","strokeWidth":2},"encoding":{"y2":{"field":"up"}}},
  {"data":{"name":"dS"},"mark":{"type":"tick","orient":"horizontal","size":8,"thickness":2,"color":"black"},"encoding":{"y":{"field":"up","type":"quantitative","scale":{"domain":[20,81.3],"nice":false,"zero":false},"axis":{"values":[20,40,60,80],"domainColor":"#888","tickColor":"#888","tickSize":5,"labelFontSize":15,"labelColor":"black","labelPadding":8,"title":null}}}},
  {"data":{"name":"dS"},"transform":[{"filter":"datum.grp === 'Control'"}],"mark":{"type":"bar","stroke":"black","strokeWidth":1.5,"fill":"#ffffff"},"encoding":{"y2":{"datum":20}}},
  {"data":{"name":"dS"},"transform":[{"filter":"datum.grp === '4-AP'"}],"mark":{"type":"bar","stroke":"black","strokeWidth":1.5,"fill":"#c9be97"},"encoding":{"y2":{"datum":20}}},
  {"data":{"name":"dS"},"mark":{"type":"point","shape":"square","filled":true,"opacity":0},"encoding":{"color":{"field":"grp","type":"nominal","scale":{"domain":["Control","4-AP"],"range":["#000000","#8e8658"]},"legend":{"title":null,"orient":"none","legendX":84.2,"legendY":-26.3,"symbolType":"square","symbolSize":81,"symbolOpacity":1,"symbolStrokeWidth":0,"labelFontSize":16,"labelOffset":7,"rowPadding":3,"padding":0}}}},
  {"data":{"values":[{"ap":"Last AP","grp":"Control","h":53.3,"h2":57.5},{"ap":"Last AP","grp":"4-AP","h":44.0,"h2":57.5}]},"mark":{"type":"rule","color":"black","strokeWidth":1.3},"encoding":{"y2":{"field":"h2"}}},
  {"data":{"values":[{"ap":"Last AP","h":57.5}]},"mark":{"type":"tick","orient":"horizontal","size":18.5,"thickness":1.3,"color":"black"},"encoding":{"xOffset":null}},
  {"data":{"values":[{"ap":"Last AP","h":57.5}]},"mark":{"type":"text","text":"*","fontSize":17,"baseline":"alphabetic","align":"center","dy":-6,"color":"black"},"encoding":{"xOffset":null}}
 ]}
],
"spacing":36,"bounds":"flush",
"resolve":{"scale":{"x":"independent","y":"independent","color":"independent","xOffset":"independent"},"axis":{"x":"independent","y":"independent"},"legend":{"color":"independent"}}}
]
}
